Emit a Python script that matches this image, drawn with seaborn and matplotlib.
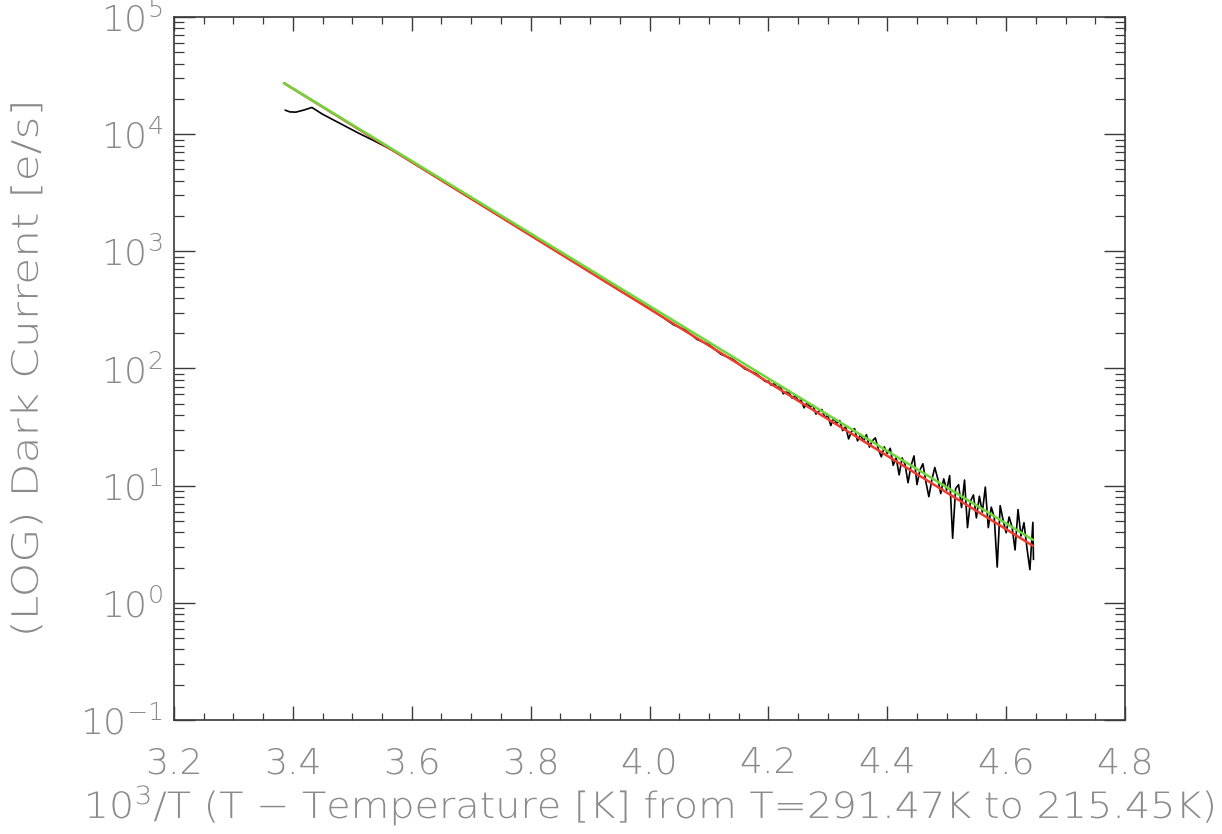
import numpy as np
import pandas as pd
import matplotlib
matplotlib.use("Agg")
import matplotlib.pyplot as plt
import seaborn as sns
from matplotlib.ticker import LogLocator, MultipleLocator, FixedLocator, LogFormatterSciNotation
from matplotlib.patheffects import AbstractPathEffect
from matplotlib.transforms import Affine2D

# ---------------- data ----------------
# measured dark current, x = 1000/T, values as log10(e/s)
x_smooth = [3.387, 3.395, 3.405, 3.418, 3.432, 3.45, 3.48, 3.51, 3.54, 3.57,
            3.60, 3.65, 3.70, 3.75, 3.80, 3.85, 3.90, 3.95, 4.00, 4.02,
            4.04, 4.06, 4.08, 4.10, 4.12, 4.14, 4.16, 4.18, 4.195]
log_smooth = [4.205, 4.190, 4.188, 4.205, 4.228, 4.170, 4.090, 4.010, 3.935, 3.856,
              3.762, 3.605, 3.449, 3.292, 3.135, 2.979, 2.822, 2.665, 2.514, 2.446,
              2.374, 2.330, 2.248, 2.205, 2.122, 2.080, 1.998, 1.955, 1.888]

x_noisy = [4.200, 4.205, 4.210, 4.215, 4.220, 4.225, 4.230, 4.235, 4.240, 4.245,
           4.250, 4.255, 4.260, 4.265, 4.270, 4.275, 4.280, 4.285, 4.290, 4.295,
           4.300, 4.305, 4.310, 4.315, 4.320, 4.325, 4.330, 4.335, 4.340, 4.345,
           4.350, 4.355, 4.360, 4.365, 4.370, 4.375, 4.380, 4.385, 4.390, 4.395,
           4.400, 4.405, 4.410, 4.415, 4.420, 4.425, 4.430, 4.435, 4.440, 4.445,
           4.450, 4.455, 4.460, 4.465, 4.470, 4.475, 4.480, 4.485, 4.490, 4.495,
           4.500, 4.505, 4.510, 4.515, 4.520, 4.525, 4.530, 4.535, 4.540, 4.545,
           4.550, 4.555, 4.560, 4.565, 4.570, 4.575, 4.580, 4.585, 4.590, 4.595,
           4.600, 4.605, 4.610, 4.615, 4.620, 4.625, 4.630, 4.635, 4.640, 4.645,
           4.646]
log_noisy = [1.892, 1.856, 1.871, 1.835, 1.849, 1.784, 1.798, 1.792, 1.747, 1.771,
             1.725, 1.730, 1.664, 1.708, 1.673, 1.687, 1.611, 1.636, 1.650, 1.584,
             1.599, 1.513, 1.577, 1.531, 1.556, 1.470, 1.504, 1.399, 1.463, 1.487,
             1.382, 1.436, 1.380, 1.435, 1.329, 1.383, 1.408, 1.312, 1.246, 1.331,
             1.275, 1.319, 1.174, 1.238, 1.092, 1.237, 1.181, 1.025, 1.170, 1.254,
             1.009, 1.133, 1.187, 1.032, 0.906, 1.050, 1.155, 1.059, 0.933, 1.058,
             0.962, 1.086, 0.551, 0.975, 1.009, 0.814, 1.048, 0.642, 0.867, 0.921,
             0.725, 0.910, 0.774, 0.988, 0.642, 0.817, 0.731, 0.305, 0.830, 0.704,
             0.598, 0.733, 0.647, 0.451, 0.796, 0.570, 0.684, 0.469, 0.283, 0.687,
             0.370]

# fitted lines (end points), log10(e/s)
fit_x = [3.385, 4.645]
red_fit_log = [4.436, 0.487]
green_fit_log = [4.436, 0.538]

x_ticks = [3.2, 3.4, 3.6, 3.8, 4.0, 4.2, 4.4, 4.6, 4.8]
x_tick_labels = ["3.2", "3.4", "3.6", "3.8", "4.0", "4.2", "4.4", "4.6", "4.8"]

x_label = r"10$^{\mathdefault{3}}$/T (T − Temperature [K] from T=291.47K to 215.45K)"
y_label = "(LOG) Dark Current [e/s]"


class StretchText(AbstractPathEffect):
    """Widen text glyphs along the text direction, keeping the centre fixed."""
    def __init__(self, sx):
        super().__init__()
        self.sx = sx

    def draw_path(self, renderer, gc, tpath, affine, rgbFace=None):
        v = tpath.vertices
        c = 0.5 * (v[:, 0].min() + v[:, 0].max()) if len(v) else 0.0
        aff = Affine2D().translate(-c, 0).scale(self.sx, 1).translate(c, 0) + affine
        renderer.draw_path(gc, tpath, aff, rgbFace)


# ---------------- plot ----------------
sns.set_style("ticks")
plt.rcParams["font.family"] = ["DejaVu Sans"]
plt.rcParams["mathtext.fontset"] = "dejavusans"

W, H = 1222, 834
fig = plt.figure(figsize=(W / 100, H / 100), dpi=100)
ax = fig.add_axes([174 / W, 1 - 720 / H, (1125 - 174) / W, (720 - 17) / H])

dark = pd.DataFrame({"x": x_smooth + x_noisy,
                     "y": [10 ** v for v in log_smooth + log_noisy]})
red = pd.DataFrame({"x": fit_x, "y": [10 ** v for v in red_fit_log]})
green = pd.DataFrame({"x": fit_x, "y": [10 ** v for v in green_fit_log]})

sns.lineplot(data=dark, x="x", y="y", ax=ax, color="black", lw=1.2,
             sort=False, estimator=None)
sns.lineplot(data=red, x="x", y="y", ax=ax, color="#ee3b2f", lw=1.8,
             sort=False, estimator=None)
sns.lineplot(data=green, x="x", y="y", ax=ax, color="#6fd63a", lw=1.8,
             sort=False, estimator=None)

ax.set_yscale("log")
ax.set_xlim(3.2, 4.8)
ax.set_ylim(1e-1, 1e5)

ax.xaxis.set_major_locator(FixedLocator(x_ticks))
ax.set_xticklabels(x_tick_labels)
ax.xaxis.set_minor_locator(MultipleLocator(0.05))
ax.yaxis.set_major_locator(LogLocator(base=10, numticks=20))
ax.yaxis.set_minor_locator(LogLocator(base=10, subs=np.arange(2, 10), numticks=20))
ax.yaxis.set_major_formatter(LogFormatterSciNotation())

text_col = "#8a8a8a"
spine_col = "#3a3a3a"
for s in ax.spines.values():
    s.set_visible(True)
    s.set_color(spine_col)
    s.set_linewidth(1.2)

ax.tick_params(which="both", direction="in", top=True, right=True,
               color=spine_col, labelcolor=text_col, labelsize=26)
ax.tick_params(axis="x", which="major", length=10, width=1.0, pad=19)
ax.tick_params(axis="x", which="minor", length=5, width=0.9)
ax.tick_params(axis="y", which="major", length=15, width=1.0, pad=8)
ax.tick_params(axis="y", which="minor", length=7, width=0.9)

for lab in ax.get_xticklabels() + ax.get_yticklabels():
    lab.set_fontweight("light")

xl = ax.set_xlabel(x_label, fontsize=26, color=text_col, fontweight="light")
ax.xaxis.set_label_coords(0.5, -0.091)
xl.set_path_effects([StretchText(1.10)])

yl = ax.set_ylabel(y_label, fontsize=26, color=text_col, fontweight="light")
ax.yaxis.set_label_coords(-0.136, 0.5)
yl.set_path_effects([StretchText(1.22)])

fig.savefig("out.png", dpi=100, facecolor="white")
